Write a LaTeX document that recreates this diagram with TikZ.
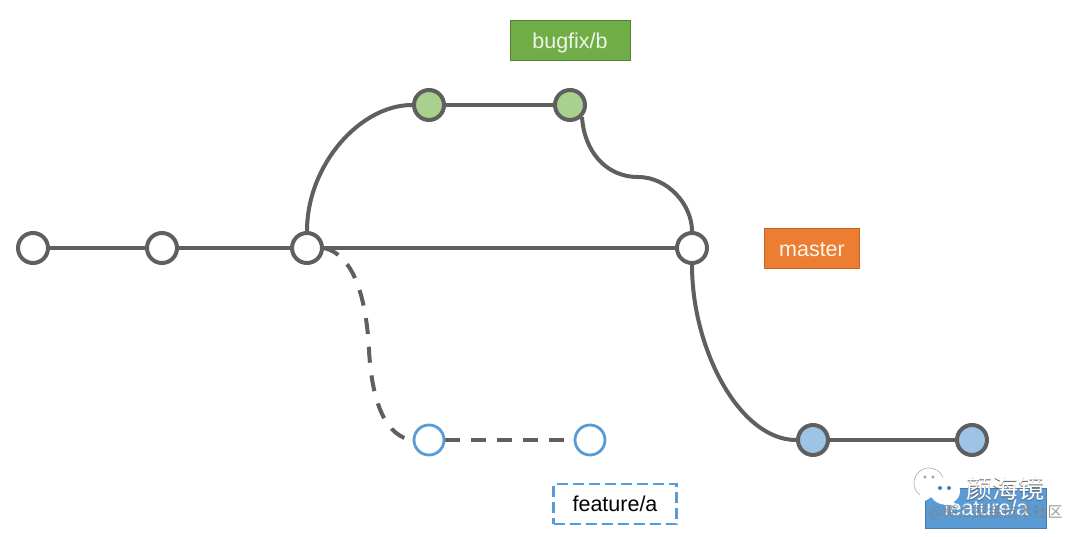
\documentclass[tikz,border=0pt]{standalone}
\usepackage{fontspec}
\setmainfont{Liberation Sans}
\newfontfamily\cjk{Noto Sans CJK SC}
\usetikzlibrary{backgrounds}
\definecolor{linegray}{HTML}{5F5F5F}
\definecolor{greenfill}{HTML}{A9D18E}
\definecolor{bluefill}{HTML}{9DC3E6}
\definecolor{blueline}{HTML}{5B9BD5}
\definecolor{tagGreen}{HTML}{70AD47}
\definecolor{tagGreenLine}{HTML}{548235}
\definecolor{tagOrange}{HTML}{ED7D31}
\definecolor{tagBlue}{HTML}{5B9BD5}
\tikzset{
  x=1pt,y=-1pt,
  commit/.style={circle,draw=linegray,line width=4pt,minimum size=30pt,inner sep=0pt,fill=white},
  greencommit/.style={commit,fill=greenfill},
  bluecommit/.style={commit,fill=bluefill},
  plancommit/.style={commit,draw=blueline,line width=2.8pt},
  branchline/.style={draw=linegray,line width=4pt},
  planline/.style={branchline,dash pattern=on 16pt off 12.8pt},
  tag/.style={minimum height=40pt,inner sep=0pt,text height=17.5pt,text depth=2.5pt,font=\fontsize{21.5}{24}\selectfont,text=white},
}
\begin{document}
\begin{tikzpicture}
\useasboundingbox (0,0) rectangle (1080,537);

% commits
\node[commit] (c1) at (33,248) {};
\node[commit] (c2) at (162,248) {};
\node[commit] (c3) at (307,248) {};
\node[commit] (c4) at (692,248) {};
\node[greencommit] (g1) at (429,105) {};
\node[greencommit] (g2) at (570,105) {};
\node[plancommit] (p1) at (429,440) {};
\node[plancommit] (p2) at (590,440) {};
\node[bluecommit] (b1) at (813,440) {};
\node[bluecommit] (b2) at (972,440) {};
\coordinate (mid) at (638,177);

% branch labels
\node[tag,fill=tagGreen,draw=tagGreenLine,line width=1pt,minimum width=120pt,text=white!88!tagGreen] (bugfix) at (570,41) {bugfix/b};
\node[tag,fill=tagOrange,draw=tagOrange!80!black,line width=1pt,minimum width=95pt,text=white!92!tagOrange] (master) at (812,249) {master};
\node[tag,fill=white,draw=blueline,line width=2.8pt,dash pattern=on 11pt off 5pt,minimum width=123pt,text=black] (plan) at (615,504) {feature/a};
\node[tag,fill=tagBlue,draw=tagBlue!80!black,line width=1pt,minimum width=121pt] (feature) at (986,508) {feature/a};

% branches run behind the commits
\begin{scope}[on background layer]
  \fill[white] (0,0) rectangle (1080,537);
  \draw[branchline] (c1) -- (c2);
  \draw[branchline] (c2) -- (c3);
  \draw[branchline] (c3) -- (c4);
  \draw[branchline] (g1) -- (g2);
  \draw[branchline] (b1) -- (b2);
  \draw[branchline] (c3.north) .. controls (307,165) and (360,105) .. (g1.west);
  \draw[branchline] (g2.south east) .. controls (584,150) and (605,177) .. (mid)
                    .. controls (668,177) and (692,205) .. (c4.north);
  \draw[branchline] (c4.south) .. controls (692,350) and (740,440) .. (b1.west);
  \draw[planline] (c3.east) .. controls (358,256) and (367,310) .. (369,350)
                  .. controls (372,405) and (387,437) .. (p1.west);
  \draw[planline,dash pattern=on 15pt off 11pt] (p1.east) -- (p2.west);
\end{scope}

% account mark printed over the lower right corner
\begin{scope}
  \fill[white,draw=linegray!60,line width=.5pt] (929,483) ellipse (15 and 15);
  \fill[white] (920,494) -- (918,505) -- (930,498) -- cycle;
  \fill[linegray!60] (925,477) circle (1.7) (933,477) circle (1.7);
  \fill[white] (945,491) ellipse (15 and 13.5);
  \fill[white] (953,501) -- (958,508) -- (945,504) -- cycle;
  \fill[tagBlue!80!black] (940,488) circle (2) (949,488) circle (2);
\end{scope}
\node[inner sep=0pt,text=linegray] (markshade) at (1005.8,489.8) {\cjk\fontsize{26}{28}\selectfont 颜海镜};
\node[inner sep=0pt,text=white] (markname) at (1005,489) {\cjk\fontsize{26}{28}\selectfont 颜海镜};
\node[inner sep=0pt,text=gray,opacity=.8] (source) at (995.5,512) {\cjk\fontsize{15}{18}\selectfont @稀土掘金技术社区};
\end{tikzpicture}
\end{document}
